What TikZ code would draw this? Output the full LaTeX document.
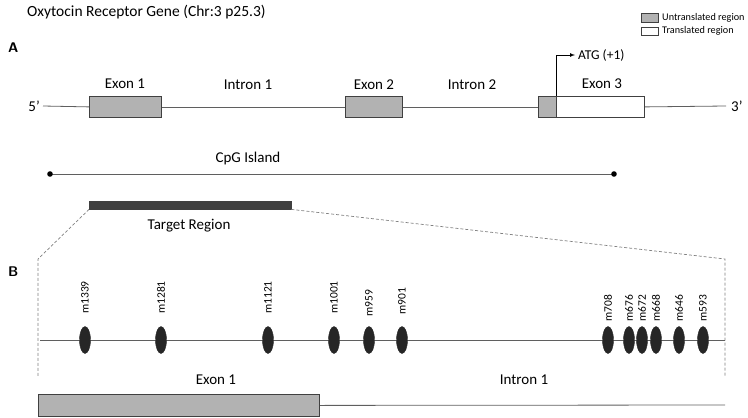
\documentclass[tikz,border=0pt]{standalone}
\usepackage{fontspec}
\setmainfont{Carlito}
\usepackage{tikz}
\usetikzlibrary{positioning}
\usetikzlibrary{shapes.geometric}
\usetikzlibrary{arrows.meta}
\definecolor{utrgrey}{RGB}{178,178,178}
\definecolor{edgegrey}{RGB}{64,64,64}
\definecolor{linegrey}{RGB}{95,95,95}
\definecolor{sitecol}{RGB}{38,38,38}
\tikzset{>=latex}
\tikzset{
  utr/.style={draw=edgegrey, fill=utrgrey, line width=0.8pt, inner sep=0pt, anchor=north west},
  cds/.style={draw=edgegrey, fill=white, line width=0.8pt, inner sep=0pt, anchor=north west},
  gene/.style={draw=linegrey, line width=0.8pt},
  lab/.style={font=\fontsize{15}{17}\selectfont, inner sep=0pt},
  site/.style={ellipse, fill=sitecol, draw=sitecol, minimum width=11pt, minimum height=27pt, inner sep=0pt},
  sitelab/.style={font=\fontsize{11.5}{13}\selectfont, rotate=90, anchor=west, inner sep=0pt},
  zoomline/.style={draw=gray, dash pattern=on 3pt off 2pt, line width=0.7pt},
}

\begin{document}
\begin{tikzpicture}[x=1pt,y=-1pt]

\useasboundingbox (0,0) rectangle (748,418);

% ---------- Title and legend ----------
\node[font=\fontsize{15.5}{17}\selectfont, anchor=west, inner sep=0pt] (title) at (27,12) {Oxytocin Receptor Gene (Chr:3 p25.3)};

\node[utr, minimum width=17pt, minimum height=9pt] (keyu) at (641,13) {};
\node[cds, minimum width=17pt, minimum height=8pt] (keyt) at (641,27) {};
\node[font=\fontsize{10.2}{12}\selectfont, anchor=west, inner sep=0pt] (keyutxt) at (662,17.5) {Untranslated region};
\node[font=\fontsize{10.2}{12}\selectfont, anchor=west, inner sep=0pt] (keyttxt) at (662,31) {Translated region};

% ---------- Panel A ----------
\node[font=\sffamily\bfseries\fontsize{14}{16}\selectfont, anchor=west, inner sep=0pt] (panA) at (8,48) {A};

\node[lab, anchor=east] (p5) at (40,106) {5'};
\node[lab, anchor=west] (p3) at (731,106) {3'};
\coordinate (g5) at (43,106);
\coordinate (g3) at (726,106);

\node[utr, minimum width=72pt, minimum height=21pt] (ex1) at (89,96) {};
\node[utr, minimum width=57pt, minimum height=21pt] (ex2) at (345,96) {};
\node[utr, minimum width=18pt, minimum height=21pt] (ex3u) at (538,96) {};
\node[cds, minimum width=88pt, minimum height=21pt] (ex3t) at (556,96) {};

% gene line
\draw[gene] (g5) -- (ex1.west);
\draw[gene] (ex1.east) -- (ex2.west);
\draw[gene] (ex2.east) -- (ex3u.west);
\draw[gene] (ex3t.east) -- (g3);

\node[lab] (ex1lab) at (125,84) {Exon 1};
\node[lab] (in1lab) at (248,85) {Intron 1};
\node[lab] (ex2lab) at (374,85) {Exon 2};
\node[lab] (in2lab) at (472,85) {Intron 2};
\node[lab] (ex3lab) at (602,84) {Exon 3};

% start codon
\node[font=\fontsize{13.5}{15}\selectfont, anchor=west, inner sep=0pt] (atg) at (578,55) {ATG (+1)};
\draw[->, line width=0.7pt] (ex3u.north east) |- ([xshift=-3pt]atg.west);

% CpG island
\coordinate (cpgL) at (50,174);
\coordinate (cpgR) at (614,174);
\draw[gene] (cpgL) -- (cpgR);
\fill (cpgL) circle (2.8);
\fill (cpgR) circle (2.8);
\node[lab] (cpglab) at (248,158) {CpG Island};

% target region
\node[draw=edgegrey, fill=edgegrey, minimum width=202pt, minimum height=8pt, inner sep=0pt, anchor=north west] (tgt) at (89,201) {};
\node[lab] (tgtlab) at (189,226) {Target Region};

% ---------- Zoom lines ----------
\coordinate (zl) at (38,259);
\coordinate (zr) at (725,259);
\coordinate (zlb) at (38,376);
\coordinate (zrb) at (725,376);
\draw[zoomline] (tgt.south west) -- (zl) -- (zlb);
\draw[zoomline] (tgt.south east) -- (zr) -- (zrb);

% ---------- Panel B ----------
\node[font=\sffamily\bfseries\fontsize{14}{16}\selectfont, anchor=west, inner sep=0pt] (panB) at (8,272) {B};

\coordinate (bL) at (40,340);
\coordinate (bR) at (725,340);
\draw[gene] (bL) -- (bR);

% CpG sites
\foreach \x/\m/\b in {
  85/1339/314, 161/1281/314, 268/1121/314, 334/1001/314, 369/959/317,
  402/901/315, 608/708/322, 629/676/322, 642/672/322, 656/668/322,
  679/646/322, 703/593/322
}{
  \node[site] (s\m) at (\x,340) {};
  \node[sitelab] (l\m) at (\x,\b) {m\m};
}

% exon 1 / intron 1 detail
\node[utr, minimum width=281pt, minimum height=22pt] (exb) at (38,394) {};
\coordinate (inb) at (725,405);
\draw[gene] (exb.east) -- (inb);
\node[lab] (exblab) at (216,380) {Exon 1};
\node[lab] (inblab) at (524,380) {Intron 1};

\end{tikzpicture}
\end{document}
